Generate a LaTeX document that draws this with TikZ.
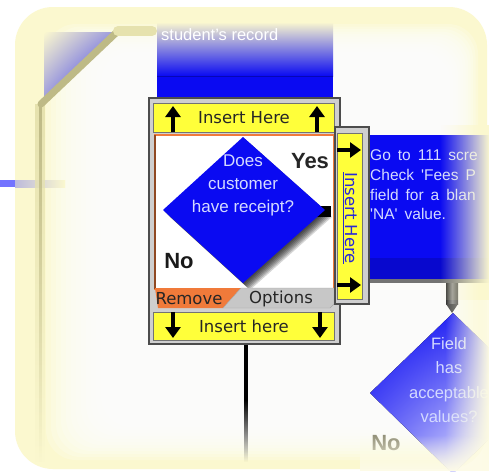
\documentclass[tikz,border=0pt]{standalone}
\usepackage{fontspec}
\setmainfont{Liberation Sans}
\newfontfamily\verd{DejaVu Sans}
\usetikzlibrary{fadings,arrows.meta,shadings}
\definecolor{ybg}{HTML}{FBF8CF}
\definecolor{olv}{HTML}{E6E2AE}
\definecolor{olvd}{HTML}{BEBA86}
\definecolor{bblue}{HTML}{0A0AF2}
\definecolor{insy}{HTML}{FFFF3A}
\definecolor{orng}{HTML}{F07A3A}
\definecolor{gfr}{HTML}{CFCFCF}
\definecolor{dtext}{HTML}{D4DAFF}
\definecolor{lnk}{HTML}{2828D8}
\newcommand\widesp{\spaceskip=7pt\relax}
\begin{document}
\begin{tikzpicture}[x=1pt,y=-1pt,
  insbar/.style={fill=insy, draw=black!55, line width=0.8},
  arr/.style={line width=4, -{Triangle[width=15pt,length=11pt]}},
  lbl/.style={font=\verd\fontsize{16.5}{18}\selectfont, text=black!85, inner sep=0},
  dq/.style={font=\fontsize{17}{23}\selectfont, text=dtext, align=center, inner sep=0},
  yn/.style={font=\fontsize{22}{24}\selectfont\bfseries, inner sep=0},
  btxt/.style={font=\fontsize{15.5}{17}\selectfont, text=dtext, anchor=base west, inner sep=0}
  ]
\useasboundingbox (0,0) rectangle (489,471);
\clip (0,0) rectangle (489,471);
\fill[white] (0,0) rectangle (489,471);
% pale yellow frame with soft white interior
\fill[ybg, rounded corners=38] (15,7) rectangle (487,469);
\foreach \i in {0,...,11} {\fill[white, opacity=0.2, rounded corners=30] ({46+\i*5},{24+\i*2.5}) rectangle ({478-\i*2.5},{460-\i*3});}
% left blue stub
\fill[blue!55!white] (0,180) rectangle (15,187);
\fill[left color=blue!25!ybg, right color=ybg] (15,180) rectangle (65,187);
% left bar and diagonal
\begin{scope}
\clip (44,102) -- (116,32) -- (44,32) -- cycle;
\fill[upper left=ybg, lower right=bblue, upper right=bblue!40!ybg, lower left=bblue!40!ybg] (44,32) rectangle (116,102);
\end{scope}
\fill[olv, path fading=south] (35,104) rectangle (45,462);
\fill[olvd, path fading=south] (39,104) rectangle (42,462);
\draw[olvd, line width=7, line cap=round] (41,104) -- (118,31);
\draw[olv, line width=10, line cap=round] (118,31) -- (152,31);
% top blue box
\fill[top color=ybg, bottom color=bblue] (157,22) rectangle (333,76);
\fill[bblue] (157,76) rectangle (333,100);
\draw[bblue!75!black, line width=0.6] (157,76) -- (333,76);
\node[font=\fontsize{16.5}{18}\selectfont, text=white, anchor=west, inner sep=0] (rec) at (161,35) {student's record};
% right blue box
\fill[bblue] (368,135) rectangle (489,258);
\fill[bblue!85!black] (368,258) rectangle (489,279);
\fill[black!55] (368,279) rectangle (489,283);
\node[btxt] (t1) at (370,160) {\widesp Go to 111 scre};
\node[btxt] (t2) at (370,180) {\widesp Check \textquotesingle Fees P};
\node[btxt] (t3) at (370,200) {\widesp field for a blan};
\node[btxt] (t4) at (370,219) {\widesp\textquotesingle NA\textquotesingle\ value.};
% connector stub
\coordinate (stubtop) at (452,283);
\coordinate (stubtip) at (452,313);
\fill[left color=black!80, right color=black!80, middle color=black!45] (446,283) rectangle (458,304);
\fill[black!70] (446,304) -- (458,304) -- (stubtip) -- cycle;
% second diamond
\begin{scope}
\clip (453,313) -- (536,393) -- (453,474) -- (370,393) -- cycle;
\fill[upper left=bblue, upper right=bblue!85!white, lower left=bblue!60!white, lower right=white] (370,313) rectangle (489,471);
\end{scope}
\node[dq, font=\fontsize{16.5}{24.5}\selectfont] (q2) at (449,380) {Field\\has\\acceptable\\values?};
\node[yn, text=black!35!ybg!90!black] (no2) at (386,443) {No};
% fade on right edge
\fill[ybg, path fading=west] (440,125) rectangle (489,300);
\fill[ybg!60!white, path fading=west] (445,300) rectangle (489,471);
\fill[ybg!50!white, path fading=north] (360,435) rectangle (489,471);
% vertical connector below widget
\coordinate (vtop) at (246,344);
\coordinate (vmid) at (246,400);
\coordinate (vbot) at (246,462);
\draw[black, line width=3.2] (vtop) -- (vmid);
\fill[black, path fading=south] (244.4,400) rectangle (247.6,462);
% main widget
\fill[gfr, draw=black!70, line width=1.2] (149,98) rectangle (340,344);
\fill[insbar] (153,103) rectangle (334,132);
\node[lbl] (ih1) at (244,118) {Insert Here};
\draw[arr] (173,132) -- (173,106);
\draw[arr] (317,132) -- (317,106);
\fill[white, draw=orng, line width=2] (155,135) rectangle (334,289);
\draw[orng!60!black, line width=2] (155,135) -- (155,289);
% diamond
\fill[black] (316,206) rectangle (331,217);
\foreach \s in {1,...,7} {\fill[black, opacity=0.16] ({243+\s},{137+\s}) -- ({325+\s},{210+\s}) -- ({243+\s},{283+\s}) -- ({163+\s},{210+\s}) -- cycle;}
\fill[bblue] (243,137) -- (325,210) -- (243,283) -- (163,210) -- cycle;
\node[dq] (q1) at (243,185) {Does\\customer\\have receipt?};
\node[yn, text=black!85] (yes) at (310,161) {Yes};
\node[yn, text=black!90] (no1) at (179,261) {No};
% tabs
\fill[orng] (155,288) -- (241,288) -- (223,308) -- (158,308) -- cycle;
\fill[black!22, draw=black!35] (241,288) -- (334,288) -- (334,304) -- (330,308) -- (223,308) -- cycle;
\node[lbl] (rem) at (189,299) {Remove};
\node[lbl] (opt) at (281,299) {Options};
% bottom insert bar
\fill[insbar] (153,312) rectangle (334,340);
\node[lbl] (ih2) at (244,326) {Insert here};
\draw[arr] (173,312) -- (173,338);
\draw[arr] (320,312) -- (320,338);
% right insert box
\fill[gfr, draw=black!70, line width=1.2] (335,127) rectangle (369,304);
\fill[insbar] (337,133) rectangle (362,299);
\node[lbl, text=lnk, rotate=-90] (ih3) at (350,218) {\underline{Insert Here}};
\draw[arr] (337,150) -- (361,150);
\draw[arr] (337,285) -- (361,285);
\end{tikzpicture}
\end{document}
